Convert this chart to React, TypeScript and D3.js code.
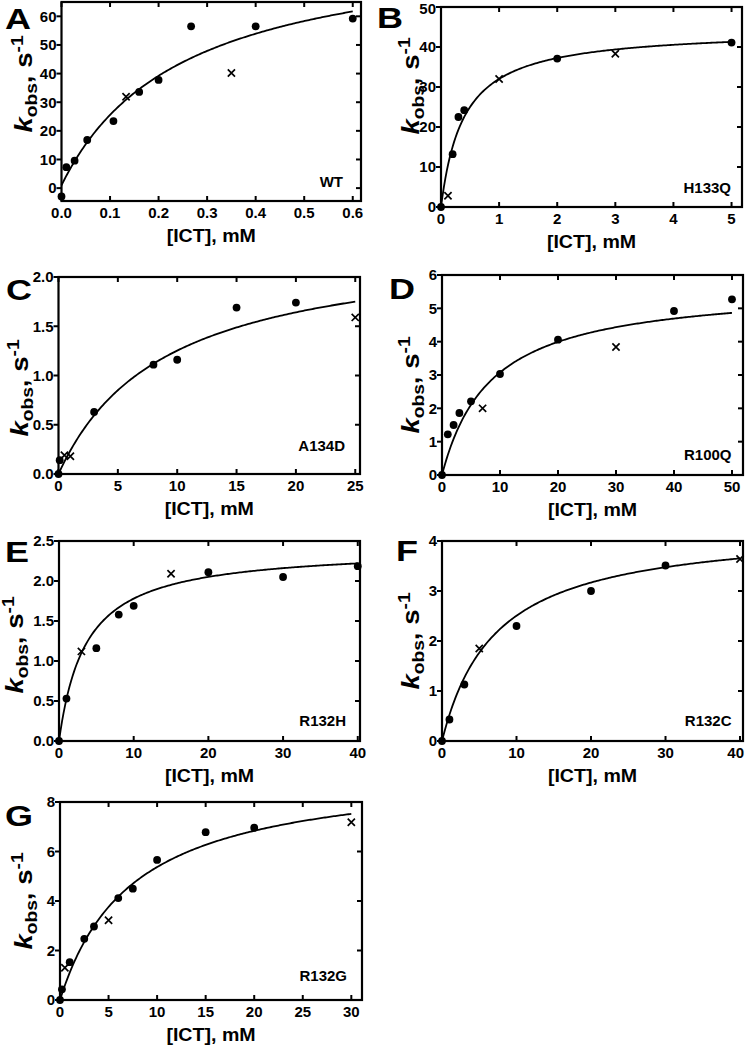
import React from "react";
import * as d3 from "d3";

// ---------- DATA ----------
// Panel A – WT
const A_DOT_X = [0, 0.01, 0.027, 0.053, 0.107, 0.16, 0.2, 0.267, 0.4, 0.6];
const A_DOT_Y = [-2.9, 7.3, 9.6, 16.8, 23.4, 33.6, 37.8, 56.5, 56.5, 59.2];
const A_CROSS_X = [0.133, 0.35];
const A_CROSS_Y = [31.9, 40.2];
const A_FIT = [1, 86, 0.25]; // offset, Vmax, K
const A_XTICKS = [0, 0.1, 0.2, 0.3, 0.4, 0.5, 0.6];
const A_YTICKS = [0, 10, 20, 30, 40, 50, 60];

// Panel B – H133Q
const B_DOT_X = [0, 0.2, 0.3, 0.4, 2, 5];
const B_DOT_Y = [0, 13.2, 22.5, 24.2, 37.1, 41.1];
const B_CROSS_X = [0.12, 1, 3];
const B_CROSS_Y = [2.8, 32.0, 38.3];
const B_FIT = [0, 44.5, 0.39];
const B_XTICKS = [0, 1, 2, 3, 4, 5];
const B_YTICKS = [0, 10, 20, 30, 40, 50];

// Panel C – A134D
const C_DOT_X = [0, 0.1, 3, 8, 10, 15, 20];
const C_DOT_Y = [0, 0.14, 0.63, 1.11, 1.16, 1.69, 1.74];
const C_CROSS_X = [0.5, 1, 25];
const C_CROSS_Y = [0.19, 0.18, 1.59];
const C_FIT = [0, 2.38, 9.0];
const C_XTICKS = [0, 5, 10, 15, 20, 25];
const C_YTICKS = [0, 0.5, 1.0, 1.5, 2.0];

// Panel D – R100Q
const D_DOT_X = [0, 1, 2, 3, 5, 10, 20, 40, 50];
const D_DOT_Y = [0, 1.22, 1.5, 1.86, 2.21, 3.03, 4.06, 4.92, 5.27];
const D_CROSS_X = [7, 30];
const D_CROSS_Y = [2.0, 3.84];
const D_FIT = [0, 5.69, 8.5];
const D_XTICKS = [0, 10, 20, 30, 40, 50];
const D_YTICKS = [0, 1, 2, 3, 4, 5, 6];

// Panel E – R132H
const E_DOT_X = [0, 1, 5, 8, 10, 20, 30, 40];
const E_DOT_Y = [0, 0.53, 1.16, 1.58, 1.69, 2.11, 2.05, 2.185];
const E_CROSS_X = [3, 15];
const E_CROSS_Y = [1.12, 2.09];
const E_FIT = [0, 2.42, 3.6];
const E_XTICKS = [0, 10, 20, 30, 40];
const E_YTICKS = [0, 0.5, 1.0, 1.5, 2.0, 2.5];

// Panel F – R132C
const F_DOT_X = [0, 1, 3, 10, 20, 30];
const F_DOT_Y = [0, 0.43, 1.13, 2.3, 3.0, 3.51];
const F_CROSS_X = [5, 40];
const F_CROSS_Y = [1.85, 3.64];
const F_FIT = [0, 4.31, 7.2];
const F_XTICKS = [0, 10, 20, 30, 40];
const F_YTICKS = [0, 1, 2, 3, 4];

// Panel G – R132G
const G_DOT_X = [0, 0.2, 1, 2.5, 3.5, 6, 7.5, 10, 15, 20];
const G_DOT_Y = [0, 0.43, 1.53, 2.47, 2.97, 4.12, 4.5, 5.66, 6.78, 6.96];
const G_CROSS_X = [0.5, 5, 30];
const G_CROSS_Y = [1.3, 3.22, 7.18];
const G_FIT = [0, 9.4, 7.5];
const G_XTICKS = [0, 5, 10, 15, 20, 25, 30];
const G_YTICKS = [0, 2, 4, 6, 8];

const LETTERS = ["A", "B", "C", "D", "E", "F", "G"];
const VARIANTS = ["WT", "H133Q", "A134D", "R100Q", "R132H", "R132C", "R132G"];
const X_TITLE = "[ICT], mM";

// ---------- LAYOUT (positions / styles) ----------
const LAYOUT = [
  { L: 61.5, R: 361, T: 2, B: 201, xd: [0, 0.617], yd: [-4.5, 65], lx: 5, ly: 29, ylx: 32, yly: 84, vx: 343, vy: 187, xf: ".1f", yf: "d" },
  { L: 441, R: 742, T: 7, B: 207, xd: [0, 5.18], yd: [0, 50], lx: 377, ly: 28, ylx: 419, yly: 86, vx: 731, vy: 193, xf: "d", yf: "d" },
  { L: 58.5, R: 360, T: 277, B: 474, xd: [0, 25.4], yd: [0, 2], lx: 6, ly: 300, ylx: 28, yly: 388, vx: 345, vy: 451, xf: "d", yf: ".1f" },
  { L: 442, R: 743, T: 275, B: 475, xd: [0, 51.9], yd: [0, 6], lx: 389, ly: 299, ylx: 419, yly: 385, vx: 731.5, vy: 460, xf: "d", yf: "d" },
  { L: 59, R: 360, T: 541, B: 741, xd: [0, 40.3], yd: [0, 2.5], lx: 5, ly: 562, ylx: 23, yly: 645, vx: 346, vy: 726, xf: "d", yf: ".1f" },
  { L: 442, R: 743, T: 541, B: 741, xd: [0, 40.4], yd: [0, 4], lx: 396, ly: 561, ylx: 419, yly: 641, vx: 731.5, vy: 726, xf: "d", yf: "d" },
  { L: 60, R: 362, T: 802, B: 1000, xd: [0, 31.1], yd: [0, 8], lx: 5, ly: 826, ylx: 32, yly: 901, vx: 347, vy: 981, xf: "d", yf: "d" },
];

const DOTS_X = [A_DOT_X, B_DOT_X, C_DOT_X, D_DOT_X, E_DOT_X, F_DOT_X, G_DOT_X];
const DOTS_Y = [A_DOT_Y, B_DOT_Y, C_DOT_Y, D_DOT_Y, E_DOT_Y, F_DOT_Y, G_DOT_Y];
const CROSS_X = [A_CROSS_X, B_CROSS_X, C_CROSS_X, D_CROSS_X, E_CROSS_X, F_CROSS_X, G_CROSS_X];
const CROSS_Y = [A_CROSS_Y, B_CROSS_Y, C_CROSS_Y, D_CROSS_Y, E_CROSS_Y, F_CROSS_Y, G_CROSS_Y];
const FITS = [A_FIT, B_FIT, C_FIT, D_FIT, E_FIT, F_FIT, G_FIT];
const XTICKS = [A_XTICKS, B_XTICKS, C_XTICKS, D_XTICKS, E_XTICKS, F_XTICKS, G_XTICKS];
const YTICKS = [A_YTICKS, B_YTICKS, C_YTICKS, D_YTICKS, E_YTICKS, F_YTICKS, G_YTICKS];

const FONT = "'Liberation Sans', Arial, Helvetica, sans-serif";
const TICK_LEN = 5;
const TICK_FS = 15;
const PAGE_W = 745;

// approximate width of a bold tick label (digits 0.556em, dot 0.278em)
function labelWidth(s: string, fs: number) {
  let w = 0;
  for (const ch of s) w += ch === "." ? 0.278 : 0.556;
  return w * fs;
}

function Panel({ i }: { i: number }) {
  const lay = LAYOUT[i];
  const x = d3.scaleLinear().domain(lay.xd).range([lay.L, lay.R]);
  const y = d3.scaleLinear().domain(lay.yd).range([lay.B, lay.T]);
  const xs = DOTS_X[i];
  const ys = DOTS_Y[i];
  const cx = CROSS_X[i];
  const cy = CROSS_Y[i];
  const [y0, vmax, km] = FITS[i];
  const xMax = Math.max(...xs, ...cx);
  const n = 200;
  const fitPts: [number, number][] = d3.range(n + 1).map((k) => {
    const xv = (xMax * k) / n;
    return [xv, y0 + (vmax * xv) / (km + xv)];
  });
  const line = d3
    .line<[number, number]>()
    .x((d) => x(d[0]))
    .y((d) => y(d[1]))
    .curve(d3.curveLinear);
  const fx = d3.format(lay.xf);
  const fy = d3.format(lay.yf);
  const cs = 3.6;

  return (
    <g>
      {/* fitted hyperbola */}
      <path d={line(fitPts) || ""} fill="none" stroke="#000" strokeWidth={1.8} />

      {/* frame */}
      <rect x={lay.L} y={lay.T} width={lay.R - lay.L} height={lay.B - lay.T} fill="none" stroke="#000" strokeWidth={2.2} />

      {/* x ticks: bottom & top, inward */}
      {XTICKS[i].map((t) => {
        const s = fx(t);
        const w = labelWidth(s, TICK_FS);
        const right = Math.min(x(t) + w / 2, PAGE_W - 1);
        return (
          <g key={"xt" + t}>
            <line x1={x(t)} x2={x(t)} y1={lay.B} y2={lay.B - TICK_LEN} stroke="#000" strokeWidth={2} />
            <line x1={x(t)} x2={x(t)} y1={lay.T} y2={lay.T + TICK_LEN} stroke="#000" strokeWidth={2} />
            <text x={right} y={lay.B + 17} textAnchor="end" fontFamily={FONT} fontWeight="bold" fontSize={TICK_FS} fill="#000">
              {s}
            </text>
          </g>
        );
      })}

      {/* y ticks: left outward, right inward */}
      {YTICKS[i].map((t) => (
        <g key={"yt" + t}>
          <line x1={lay.L} x2={lay.L - TICK_LEN} y1={y(t)} y2={y(t)} stroke="#000" strokeWidth={2} />
          <line x1={lay.R} x2={lay.R - TICK_LEN} y1={y(t)} y2={y(t)} stroke="#000" strokeWidth={2} />
          <text
            x={lay.L - 5}
            y={Math.max(y(t) + 5.3, TICK_FS * 0.92)}
            textAnchor="end"
            fontFamily={FONT}
            fontWeight="bold"
            fontSize={TICK_FS}
            fill="#000"
          >
            {fy(t)}
          </text>
        </g>
      ))}

      {/* data: filled circles */}
      {xs.map((xv, k) => (
        <circle key={"d" + k} cx={x(xv)} cy={y(ys[k])} r={3.9} fill="#000" />
      ))}
      {/* data: crosses */}
      {cx.map((xv, k) => {
        const px = x(xv);
        const py = y(cy[k]);
        return (
          <path
            key={"c" + k}
            d={`M${px - cs},${py - cs}L${px + cs},${py + cs}M${px - cs},${py + cs}L${px + cs},${py - cs}`}
            stroke="#000"
            strokeWidth={1.7}
            fill="none"
          />
        );
      })}

      {/* variant label */}
      <text x={lay.vx} y={lay.vy} textAnchor="end" fontFamily={FONT} fontWeight="bold" fontSize={15} fill="#000">
        {VARIANTS[i]}
      </text>

      {/* panel letter */}
      <text transform={`translate(${lay.lx},${lay.ly}) scale(1.2,1)`} fontFamily={FONT} fontWeight="bold" fontSize={30} fill="#000">
        {LETTERS[i]}
      </text>

      {/* x-axis title */}
      <text
        transform={`translate(${(lay.L + lay.R) / 2},${lay.B + 41}) scale(1.12,1)`}
        textAnchor="middle"
        fontFamily={FONT}
        fontWeight="bold"
        fontSize={17.5}
        fill="#000"
      >
        {X_TITLE}
      </text>

      {/* y-axis title */}
      <text
        transform={`translate(${lay.ylx},${lay.yly}) rotate(-90) scale(1.2,1)`}
        textAnchor="middle"
        fontFamily={FONT}
        fontWeight="bold"
        fontSize={23}
        fill="#000"
      >
        <tspan fontStyle="italic">k</tspan>
        <tspan fontSize={16} dy={5}>obs</tspan>
        <tspan dy={-5}>, s</tspan>
        <tspan fontSize={16} dy={-9}>-1</tspan>
      </text>
    </g>
  );
}

export default function App() {
  return (
    <svg
      width={745}
      height={1045}
      viewBox="0 0 745 1045"
      style={{ position: "absolute", left: 0, top: 0, display: "block", background: "#fff" }}
    >
      <rect x={0} y={0} width={745} height={1045} fill="#fff" />
      {LAYOUT.map((_, i) => (
        <Panel key={i} i={i} />
      ))}
    </svg>
  );
}
